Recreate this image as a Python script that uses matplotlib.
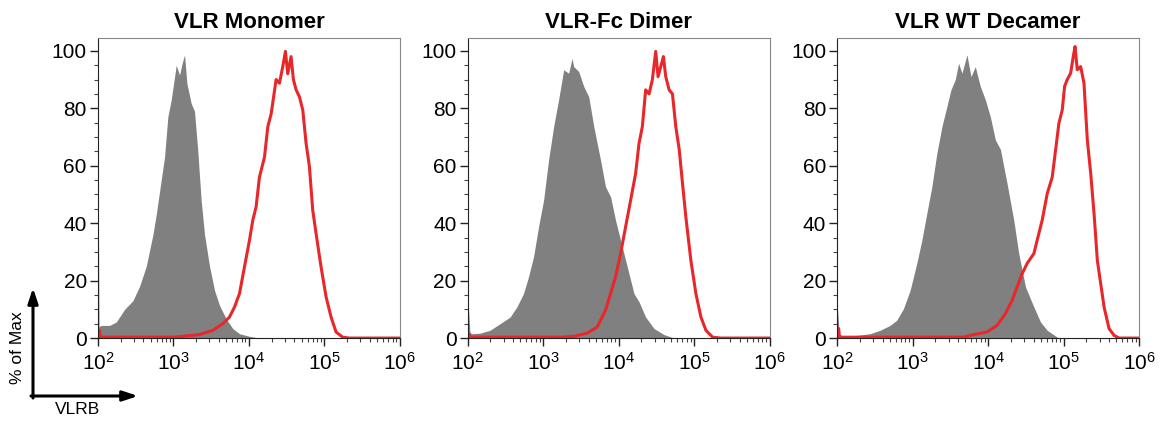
import numpy as np
import matplotlib.pyplot as plt
from matplotlib.ticker import MultipleLocator, LogLocator, NullFormatter

plt.rcParams['font.family'] = ['Liberation Sans', 'DejaVu Sans']
plt.rcParams['mathtext.fontset'] = 'custom'
plt.rcParams['mathtext.rm'] = 'Liberation Sans'

titles = ['VLR Monomer', 'VLR-Fc Dimer', 'VLR WT Decamer']

# log10(VLRB) positions and % of Max values
gray_x1 = [2.0, 2.006, 2.014, 2.044, 2.154, 2.243, 2.353, 2.463, 2.551, 2.640, 2.728, 2.772, 2.838,
           2.882, 2.926, 2.971, 3.015, 3.037, 3.081, 3.116, 3.147, 3.178, 3.235, 3.279, 3.323,
           3.367, 3.412, 3.478, 3.544, 3.610, 3.698, 3.786, 3.875, 4.007, 4.139]
gray_y1 = [42, 42, 4.0, 4.4, 4.4, 5.6, 10, 13, 18, 25, 36, 43, 55,
           63, 77, 83, 91, 95, 91.6, 95.7, 98.6, 88.7, 81.7, 79, 65,
           48, 36, 25, 16.6, 11.4, 6.7, 3.3, 1.5, 0.6, 0]
red_x1 = [2.0, 2.02, 2.03, 2.5, 3.0, 3.345, 3.522, 3.654, 3.742, 3.809, 3.875, 3.941, 4.007, 4.051,
          4.095, 4.139, 4.206, 4.250, 4.294, 4.360, 4.404, 4.448, 4.483, 4.514, 4.558, 4.589,
          4.625, 4.669, 4.713, 4.757, 4.801, 4.845, 4.889, 4.955, 5.022, 5.088, 5.154, 5.242,
          5.330, 6.0]
red_y1 = [2.7, 2.7, 0.3, 0.3, 0.3, 1.2, 2.7, 5, 7.3, 10.8, 15.5, 24.8, 34, 41,
          45.7, 56, 63, 73.6, 78, 90, 88.7, 94.5, 99.8, 92, 98, 90,
          86.4, 84, 79.4, 67.8, 59.7, 44.5, 36.4, 24.8, 14.3, 7.3, 2.1, 0.3,
          0, 0]

gray_x2 = [2.0, 2.006, 2.031, 2.053, 2.164, 2.297, 2.430, 2.563, 2.652, 2.741, 2.807, 2.874, 2.940,
           3.007, 3.073, 3.140, 3.206, 3.273, 3.339, 3.384, 3.406, 3.472, 3.539, 3.605, 3.672,
           3.761, 3.827, 3.894, 3.960, 4.027, 4.115, 4.204, 4.271, 4.359, 4.470, 4.603, 4.736]
gray_y2 = [13, 13, 2.0, 1.5, 1.7, 2.7, 5, 7.3, 10.8, 15.5, 21.3, 28.3, 38.7,
           48, 62, 73.6, 83, 93.4, 92.2, 97.4, 94.5, 92.8, 87.6, 84, 73.6,
           62, 52.7, 49.2, 41, 34, 24.8, 15.5, 12.6, 7.3, 3.3, 1.2, 0]
red_x2 = [2.0, 2.02, 2.031, 2.075, 3.228, 3.406, 3.583, 3.716, 3.827, 3.894, 3.960, 4.027, 4.093,
          4.160, 4.226, 4.271, 4.315, 4.359, 4.404, 4.448, 4.492, 4.523, 4.559, 4.594, 4.625,
          4.670, 4.714, 4.758, 4.803, 4.847, 4.891, 4.958, 5.024, 5.091, 5.157, 5.246, 5.357, 6.0]
red_y2 = [1.5, 1.5, 0.3, 0.3, 0.3, 0.6, 1.7, 3.8, 9.7, 15.5, 21.3, 29.4, 38.7,
          48, 57.3, 67.8, 73.6, 86.4, 85, 90, 99.8, 91, 94.5, 98, 91,
          86.4, 85, 73.6, 65.7, 53.8, 42.2, 27, 15.5, 7.3, 2.7, 0.3, 0, 0]

gray_x3 = [2.0, 2.006, 2.027, 2.058, 2.257, 2.434, 2.567, 2.700, 2.788, 2.877, 2.966, 3.054, 3.121,
           3.187, 3.254, 3.320, 3.387, 3.453, 3.506, 3.564, 3.608, 3.652, 3.719, 3.772, 3.829,
           3.896, 3.962, 4.029, 4.095, 4.162, 4.250, 4.339, 4.405, 4.494, 4.605, 4.693, 4.782,
           4.915, 5.003]
gray_y3 = [9.7, 9.7, 1.5, 0.9, 0.9, 1.5, 2.7, 4.4, 6.2, 10.2, 16.6, 26, 34,
           43.4, 52.7, 64.3, 73.6, 80.6, 86.4, 90, 95.7, 92.2, 98.6, 91, 94.5,
           87.6, 83, 77, 69, 65.7, 53.8, 41, 29.4, 17.8, 10.8, 5.6, 2.7,
           0.3, 0]
red_x3 = [2.0, 2.02, 2.03, 2.058, 2.567, 3.674, 3.807, 3.985, 4.117, 4.228, 4.317, 4.383, 4.450,
          4.516, 4.605, 4.671, 4.715, 4.782, 4.848, 4.893, 4.937, 4.981, 5.012, 5.047, 5.092,
          5.127, 5.150, 5.180, 5.225, 5.269, 5.313, 5.358, 5.402, 5.446, 5.490, 5.535, 5.601,
          5.668, 5.734, 6.0]
red_y3 = [3.3, 3.3, 0.3, 0.3, 0.3, 0.3, 1.2, 2.1, 4.4, 8.5, 13.1, 17.8, 22.4,
          26, 29.4, 36.4, 41, 50.3, 56, 65.5, 74.8, 79.4, 87.6, 90, 92.2,
          98, 101.5, 93.4, 94.5, 88.7, 69, 57.3, 43.4, 27, 19, 10.8, 3.3,
          0.9, 0, 0]

grays = [(gray_x1, gray_y1), (gray_x2, gray_y2), (gray_x3, gray_y3)]
reds = [(red_x1, red_y1), (red_x2, red_y2), (red_x3, red_y3)]

fig = plt.figure(figsize=(11.66, 4.21), dpi=100)
lefts = [0.084, 0.401, 0.718]

for i in range(3):
    ax = fig.add_axes([lefts[i], 0.197, 0.259, 0.713])
    gx, gy = grays[i]
    rx, ry = reds[i]
    ax.fill_between(10 ** np.array(gx), gy, 0, color='#808080', linewidth=0)
    ax.plot(10 ** np.array(rx), ry, color='#e8272a', linewidth=2.2)
    ax.set_xscale('log')
    ax.set_xlim(1e2, 1e6)
    ax.set_ylim(0, 104.5)
    ax.yaxis.set_major_locator(MultipleLocator(20))
    ax.yaxis.set_minor_locator(MultipleLocator(5))
    ax.xaxis.set_major_locator(LogLocator(base=10, numticks=10))
    ax.xaxis.set_minor_locator(LogLocator(base=10, subs=np.arange(2, 10), numticks=20))
    ax.xaxis.set_minor_formatter(NullFormatter())
    ax.tick_params(axis='both', which='major', direction='out', length=6, width=1,
                   labelsize=15, color='#222222')
    ax.tick_params(axis='both', which='minor', direction='out', length=3, width=0.8,
                   color='#444444')
    ax.tick_params(axis='x', pad=4)
    ax.tick_params(axis='y', pad=2)
    ax.spines['left'].set_color('#222222')
    ax.spines['bottom'].set_color('#222222')
    ax.spines['top'].set_color('#888888')
    ax.spines['right'].set_color('#888888')
    ax.set_title(titles[i], fontsize=16, fontweight='bold', pad=7)

# axis key in the lower left corner, drawn in pixel coordinates
ax_key = fig.add_axes([0, 0, 1, 1], facecolor='none')
ax_key.set_xlim(0, 1166)
ax_key.set_ylim(421, 0)
ax_key.axis('off')
ax_key.annotate('', xy=(33, 288), xytext=(33, 398),
                arrowprops=dict(arrowstyle='-|>,head_width=0.3,head_length=0.9',
                                color='black', lw=2.2, shrinkA=0, shrinkB=0))
ax_key.annotate('', xy=(138, 396), xytext=(31, 396),
                arrowprops=dict(arrowstyle='-|>,head_width=0.3,head_length=0.9',
                                color='black', lw=2.2, shrinkA=0, shrinkB=0))
ax_key.text(18, 348, '% of Max', rotation=90, ha='center', va='center', fontsize=12.5)
ax_key.text(78, 409, 'VLRB', ha='center', va='center', fontsize=12.5)

fig.savefig('out.png', dpi=100)
